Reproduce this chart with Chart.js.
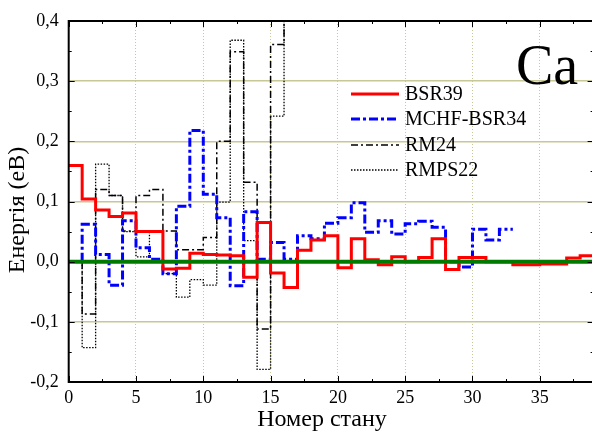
<!DOCTYPE html>
<html>
<head>
<meta charset="utf-8">
<script src="https://cdn.jsdelivr.net/npm/chart.js@4.4.1/dist/chart.umd.min.js"></script>
<style>
    html, body { margin: 0; padding: 0; background: #fff; overflow: hidden; }
    canvas { display: block; }
</style>
</head>
<body>
<canvas id="chart" width="600" height="431"></canvas>
<script>
// Energy difference per state (eV)
// BSR39 starts at state 0, the others at state 1
const bsr39 = [0.160, 0.104, 0.086, 0.075, 0.081, 0.050, 0.050, -0.012, -0.011, 0.014,
               0.012, 0.011, 0.010, -0.026, 0.065, -0.019, -0.043, 0.019, 0.036, 0.043,
               -0.010, 0.038, 0.003, -0.005, 0.008, 0.000, 0.007, 0.038, -0.013, 0.007,
               0.007, 0.000, 0.000, -0.005, -0.005, -0.004, -0.004, 0.006, 0.010];
const mchfBsr34 = [0.062, 0.012, -0.039, 0.068, 0.023, 0.004, -0.020, 0.092, 0.218, 0.112,
                   0.073, -0.040, 0.083, 0.004, 0.032, 0.004, 0.043, 0.038, 0.064, 0.073,
                   0.098, 0.049, 0.068, 0.046, 0.063, 0.067, 0.057, 0.000, -0.009, 0.054,
                   0.036, 0.054];
const rm24 = [-0.087, 0.120, 0.110, 0.051, 0.110, 0.120, 0.051, 0.020, 0.020, 0.040,
              0.200, 0.349, 0.132, -0.112, 0.361, 0.450];
const rmps22 = [-0.143, 0.162, 0.110, 0.050, 0.008, 0.050, -0.020, -0.059, -0.030, -0.039,
                0.099, 0.368, 0.035, -0.179, 0.242, 0.450];

const seriesNames = ['BSR39', 'MCHF-BSR34', 'RM24', 'RMPS22'];
const xRange = [0, 39];
const yRange = [-0.2, 0.4];

const serif = "'Liberation Serif', 'Times New Roman', serif";
const gridColor = '#c8c896';

// turn a list of per-state values into step points
function steps(values, first, fromZero) {
    const pts = [];
    if (fromZero) pts.push({x: first, y: 0});
    values.forEach((v, i) => pts.push({x: first + i, y: v}));
    pts.push({x: first + values.length, y: values[values.length - 1]});
    return pts;
}

// inward ticks, frame, legend and labels
const decorPlugin = {
    id: 'decor',
    afterDatasetsDraw(chart) {
        const {ctx, chartArea: a, scales: {x, y}} = chart;
        ctx.save();
        ctx.strokeStyle = '#000';
        ctx.lineWidth = 1;
        ctx.setLineDash([]);
        ctx.beginPath();
        for (let i = 0; i * 2.5 <= xRange[1]; i++) {
            const px = Math.round(x.getPixelForValue(i * 2.5)) + 0.5;
            const len = i % 2 === 0 ? 6 : 3;
            ctx.moveTo(px, a.bottom); ctx.lineTo(px, a.bottom - len);
            ctx.moveTo(px, a.top); ctx.lineTo(px, a.top + len);
        }
        for (let i = -4; i <= 8; i++) {
            const py = Math.round(y.getPixelForValue(i * 0.05)) + 0.5;
            const len = i % 2 === 0 ? 6 : 3;
            ctx.moveTo(a.left, py); ctx.lineTo(a.left + len, py);
            ctx.moveTo(a.right, py); ctx.lineTo(a.right - len, py);
        }
        ctx.stroke();
        ctx.lineWidth = 2;
        ctx.strokeRect(a.left, a.top, a.right - a.left, a.bottom - a.top);

        // legend
        ctx.font = '20px ' + serif;
        ctx.fillStyle = '#000';
        ctx.textBaseline = 'middle';
        ctx.textAlign = 'left';
        const rows = [94, 119, 145, 170];
        chart.data.datasets.slice(0, 4).forEach((ds, i) => {
            ctx.beginPath();
            ctx.strokeStyle = ds.borderColor;
            ctx.lineWidth = ds.borderWidth;
            ctx.setLineDash(ds.borderDash || []);
            ctx.moveTo(351, rows[i]);
            ctx.lineTo(399, rows[i]);
            ctx.stroke();
            ctx.fillText(seriesNames[i], 405, rows[i] + 1);
        });
        ctx.setLineDash([]);

        // element label
        ctx.font = '56px ' + serif;
        ctx.textBaseline = 'alphabetic';
        ctx.fillText('Ca', 516, 84);

        // axis titles
        ctx.font = '24px ' + serif;
        ctx.textAlign = 'center';
        ctx.fillText('Номер стану', 322, 426);
        ctx.translate(24, 210);
        ctx.rotate(-Math.PI / 2);
        ctx.fillText('Енергія (еВ)', 0, 0);
        ctx.restore();
    }
};

const ctx = document.getElementById('chart').getContext('2d');
new Chart(ctx, {
    type: 'line',
    data: {
        datasets: [{
            label: seriesNames[0],
            data: steps(bsr39, 0, false),
            borderColor: '#ff0000',
            borderWidth: 3,
            order: 1
        }, {
            label: seriesNames[1],
            data: steps(mchfBsr34, 1, true),
            borderColor: '#0000ff',
            borderWidth: 3,
            borderDash: [9, 3, 3, 3],
            order: 2
        }, {
            label: seriesNames[2],
            data: steps(rm24, 1, true),
            borderColor: '#000000',
            borderWidth: 1.5,
            borderDash: [7, 3, 2, 3],
            order: 3
        }, {
            label: seriesNames[3],
            data: steps(rmps22, 1, true),
            borderColor: '#000000',
            borderWidth: 1.3,
            borderDash: [1.5, 1.5],
            order: 4
        }, {
            label: 'zero',
            data: [{x: xRange[0], y: 0}, {x: xRange[1], y: 0}],
            borderColor: '#007a00',
            borderWidth: 4,
            order: 0
        }]
    },
    options: {
        responsive: false,
        animation: false,
        elements: {
            line: { stepped: true, fill: false, tension: 0 },
            point: { radius: 0 }
        },
        layout: { padding: { top: 21, right: 6.4, left: 0, bottom: 0 } },
        plugins: {
            legend: { display: false },
            tooltip: { enabled: false }
        },
        scales: {
            x: {
                type: 'linear',
                min: xRange[0],
                max: xRange[1],
                afterFit: s => { s.height = 49; },
                grid: {
                    color: gridColor,
                    lineWidth: 1,
                    drawTicks: false
                },
                // in v4 the dash of the grid lines sits under border
                border: { display: false, dash: [1, 2] },
                ticks: {
                    stepSize: 5,
                    includeBounds: false,
                    padding: 5,
                    color: '#000',
                    maxRotation: 0,
                    font: { family: serif, size: 18 }
                }
            },
            y: {
                min: yRange[0],
                max: yRange[1],
                afterFit: s => { s.width = 68.7; },
                grid: {
                    color: gridColor,
                    lineWidth: 1.5,
                    drawTicks: false
                },
                border: { display: false },
                ticks: {
                    stepSize: 0.1,
                    padding: 10,
                    color: '#000',
                    font: { family: serif, size: 18 },
                    callback: v => v.toFixed(1).replace('.', ',')
                }
            }
        }
    },
    plugins: [decorPlugin]
});
</script>
</body>
</html>
